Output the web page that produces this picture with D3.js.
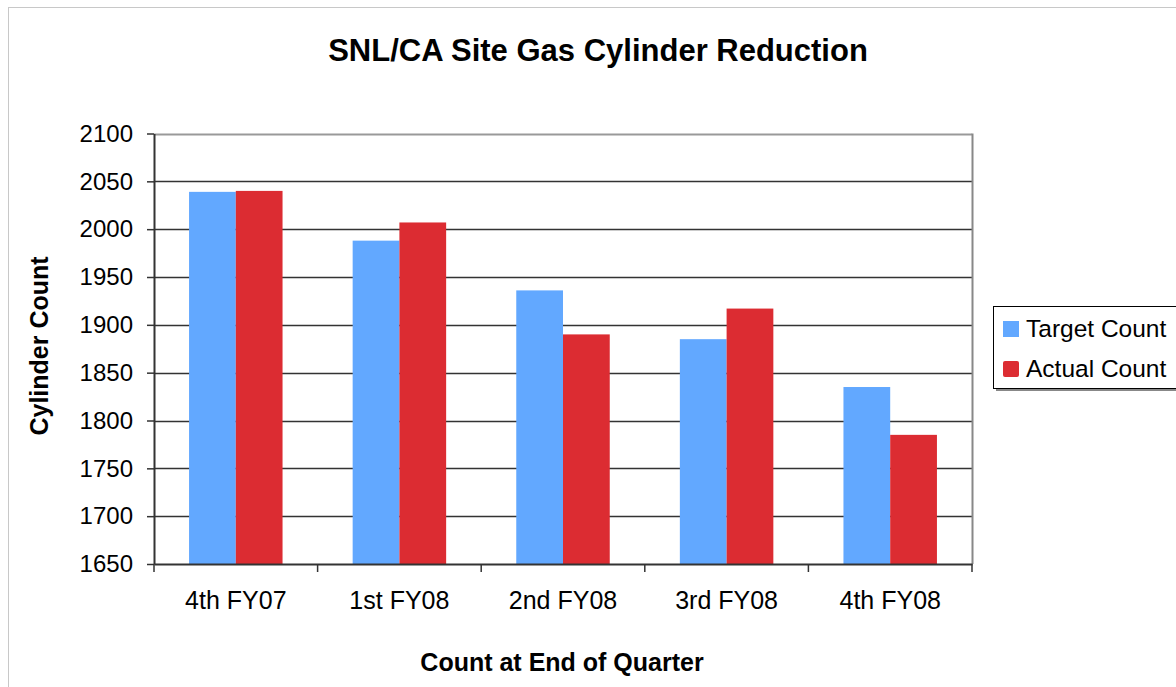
<!DOCTYPE html>
<html><head><meta charset="utf-8">
<script src="https://cdn.jsdelivr.net/npm/d3@7"></script>
<style>body{margin:0;background:#fff;font-family:"Liberation Sans",Arial,sans-serif;}</style>
</head><body><svg id="c" width="1176" height="687"></svg>
<script>
const categories = ["4th FY07","1st FY08","2nd FY08","3rd FY08","4th FY08"];
const seriesNames = ["Target Count","Actual Count"];
const targetCount = [2039,1988,1936,1885,1835];
const actualCount = [2040,2007,1890,1917,1785];
const yTicks = [1650,1700,1750,1800,1850,1900,1950,2000,2050,2100];
const colors = ["#62A8FF","#DC2C32"];

const svg = d3.select("#c");
const L=154, R=972, T=133.5, B=564;
svg.append("rect").attr("x",8.5).attr("y",7.5).attr("width",1180).attr("height",700)
  .attr("fill","#fff").attr("stroke","#c8c8c8");

const x = d3.scaleBand().domain(categories).range([L,R]).paddingInner(1.5/3.5).paddingOuter(0.75/3.5);
const xs = d3.scaleBand().domain(seriesNames).range([0,x.bandwidth()]);
const y = d3.scaleLinear().domain([1650,2100]).range([B,T]);

// gridlines
svg.append("g").selectAll("line").data(yTicks.slice(1)).join("line")
  .attr("x1",L).attr("x2",R).attr("y1",d=>Math.round(y(d))+0.5).attr("y2",d=>Math.round(y(d))+0.5)
  .attr("stroke",d=>d===2100?"#999":"#333").attr("stroke-width",d=>d===2100?2:1.5);
// right border
svg.append("line").attr("x1",R+0.5).attr("x2",R+0.5).attr("y1",T).attr("y2",B).attr("stroke","#888").attr("stroke-width",2);

const data = categories.map((c,i)=>({c, vals:[targetCount[i],actualCount[i]]}));
const g = svg.append("g");
data.forEach(d=>{
  d.vals.forEach((v,j)=>{
    g.append("rect").attr("x",x(d.c)+xs(seriesNames[j])).attr("width",xs.bandwidth())
     .attr("y",y(v)).attr("height",B-y(v)).attr("fill",colors[j]);
  });
});

const FONT = "Liberation Sans, Arial, sans-serif";
// y axis
const ya = svg.append("g").attr("transform",`translate(${L},0)`)
  .call(d3.axisLeft(y).tickValues(yTicks).tickSize(7).tickSizeOuter(0).tickFormat(d3.format("d")));
ya.attr("font-size",24).attr("font-family",FONT);
ya.select(".domain").attr("stroke","#333").attr("stroke-width",2);
ya.selectAll(".tick line").attr("stroke","#333").attr("stroke-width",1.5);
ya.selectAll(".tick text").attr("fill","#000").attr("x",-21);

// x axis
const xa = svg.append("g").attr("transform",`translate(0,${B})`)
  .call(d3.axisBottom(x).tickSize(0).tickSizeOuter(0));
xa.attr("font-size",25).attr("font-family",FONT);
xa.select(".domain").attr("stroke","#333").attr("stroke-width",2);
xa.selectAll(".tick text").attr("fill","#000").attr("dy",0).attr("y",45);
svg.append("g").selectAll("line").data(d3.range(categories.length+1)).join("line")
  .attr("x1",i=>L+i*(R-L)/categories.length).attr("x2",i=>L+i*(R-L)/categories.length)
  .attr("y1",B).attr("y2",B+8).attr("stroke","#333").attr("stroke-width",1.5);

// titles
svg.append("text").attr("x",598).attr("y",61).attr("text-anchor","middle")
  .attr("font-size",31).attr("font-weight","bold").text("SNL/CA Site Gas Cylinder Reduction");
svg.append("text").attr("x",562).attr("y",671).attr("text-anchor","middle")
  .attr("font-size",25).attr("font-weight","bold").text("Count at End of Quarter");
svg.append("text").attr("transform","translate(48,346) rotate(-90)").attr("text-anchor","middle")
  .attr("font-size",25).attr("font-weight","bold").text("Cylinder Count");

// legend
const lg = svg.append("g");
lg.append("rect").attr("x",996).attr("y",309).attr("width",200).attr("height",82).attr("fill","#888");
lg.append("rect").attr("x",993.5).attr("y",306.5).attr("width",200).attr("height",82).attr("fill","#fff").attr("stroke","#000").attr("stroke-width",1);
seriesNames.forEach((s,i)=>{
  lg.append("rect").attr("x",1003).attr("y",321+i*40).attr("width",16).attr("height",16).attr("fill",colors[i]).attr("rx",i?2:0);
  lg.append("text").attr("x",1026).attr("y",337+i*40).attr("font-size",24.5).text(s);
});
</script></body></html>
